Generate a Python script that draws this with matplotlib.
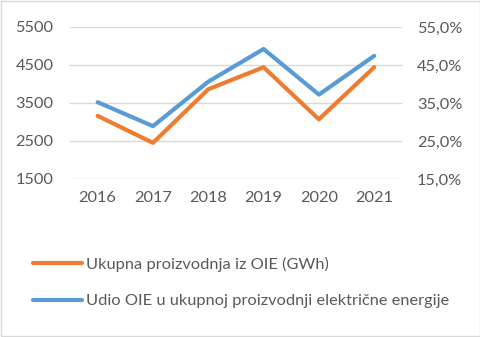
import matplotlib.pyplot as plt
from matplotlib.ticker import FuncFormatter
from matplotlib.lines import Line2D
from matplotlib.patches import Rectangle

years = ["2016", "2017", "2018", "2019", "2020", "2021"]
production_gwh = [3160, 2450, 3860, 4440, 3070, 4440]
share_pct = [35.2, 28.9, 40.6, 49.2, 37.2, 47.4]
left_ticks = [1500, 2500, 3500, 4500, 5500]
right_ticks = [15, 25, 35, 45, 55]
labels = ["Ukupna proizvodnja iz OIE (GWh)",
          "Udio OIE u ukupnoj proizvodnji električne energije"]

orange = "#ED7D31"
blue = "#5B9BD5"
text_col = "#595959"
grid_col = "#D9D9D9"

plt.rcParams["font.family"] = ["Lato", "DejaVu Sans"]
fs = 11.8

fig = plt.figure(figsize=(4.81, 3.37), dpi=100)
fig.patches.append(Rectangle((0.002, 0.003), 0.995, 0.993, transform=fig.transFigure,
                             fill=False, edgecolor=grid_col, linewidth=1))

ax = fig.add_axes([0.1455, 0.469, 0.690, 0.451])
ax2 = ax.twinx()

x = range(len(years))
ax.plot(x, production_gwh, color=orange, lw=3, solid_capstyle="round", zorder=3)
ax2.plot(x, share_pct, color=blue, lw=3, solid_capstyle="round", zorder=3)

ax.set_xlim(-0.5, len(years) - 0.5)
ax.set_ylim(1500, 5500)
ax2.set_ylim(15, 55)
ax.set_yticks(left_ticks)
ax2.set_yticks(right_ticks)
ax.set_xticks(list(x))
ax.set_xticklabels(years)
ax2.yaxis.set_major_formatter(FuncFormatter(lambda v, p: f"{v:.1f}%".replace(".", ",")))

ax.grid(axis="y", color=grid_col, lw=1)
for a in (ax, ax2):
    for s in a.spines.values():
        s.set_visible(False)
    a.tick_params(length=0, colors=text_col, labelsize=fs)
ax.tick_params(axis="y", pad=12)
ax2.tick_params(axis="y", pad=11)
ax.tick_params(axis="x", pad=9)

handles = [Line2D([], [], color=orange, lw=3, solid_capstyle="round"),
           Line2D([], [], color=blue, lw=3, solid_capstyle="round")]
fig.legend(handles, labels, loc="upper left", bbox_to_anchor=(0.055, 0.258),
           frameon=False, handlelength=3.0, handletextpad=0.25, labelspacing=1.35,
           labelcolor=text_col, fontsize=fs, borderaxespad=0)

fig.savefig("out.png", dpi=100)
